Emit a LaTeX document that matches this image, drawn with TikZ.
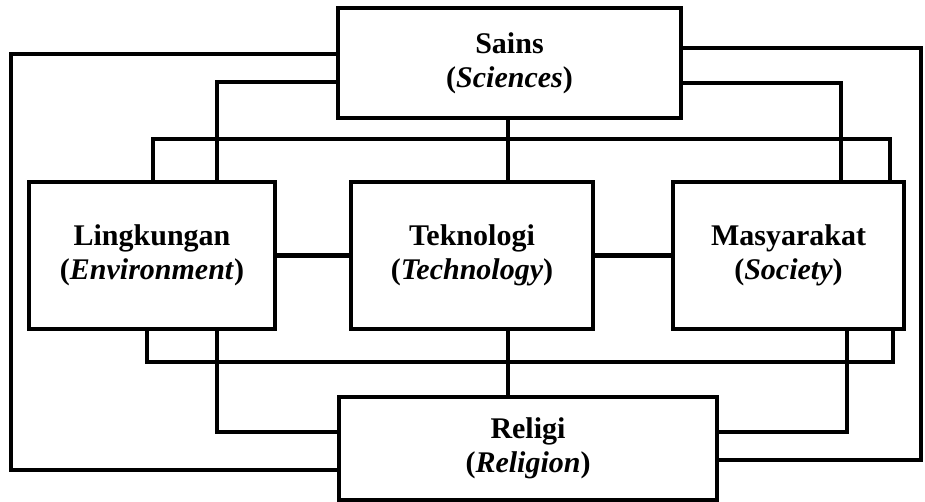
\documentclass[tikz,border=0pt]{standalone}
\usepackage{fontspec}
\setmainfont{Liberation Serif}
\tikzset{
  box/.style={draw, line width=2.4pt, align=center, inner sep=0pt,
    font=\fontsize{15}{17}\selectfont\bfseries},
  link/.style={line width=2.4pt},
}
\begin{document}
\begin{tikzpicture}[x=0.5pt, y=-0.5pt]
\useasboundingbox (0,0) rectangle (925,502);
\node[box, minimum width=171.5pt, minimum height=55pt] (sains) at (509.5,63) {\raisebox{-2.5pt}{Sains}\\\raisebox{-2.5pt}{(\textit{Sciences})}};
\node[box, minimum width=123pt, minimum height=73.5pt] (ling) at (152,255.5) {Lingkungan\\(\textit{Environment})};
\node[box, minimum width=121pt, minimum height=73.5pt] (tek) at (472,255.5) {Teknologi\\(\textit{Technology})};
\node[box, minimum width=115.5pt, minimum height=73.5pt] (mas) at (788.5,255.5) {Masyarakat\\(\textit{Society})};
\node[box, minimum width=189pt, minimum height=51.5pt] (religi) at (528,448.5) {Religi\\(\textit{Religion})};
% outer loops
\draw[link] (sains.west |- 0,54) -| (11,470) -- (religi.west |- 0,470);
\draw[link] (sains.east |- 0,48) -| (921,460) -- (religi.east |- 0,460);
% sains to the middle row
\draw[link] (sains.west |- 0,82) -| (ling.north -| 217,0);
\draw[link] (sains.east |- 0,83) -| (mas.north -| 841,0);
\draw[link] (sains.south -| 508,0) -- (tek.north -| 508,0);
% bars over and under the middle row
\draw[link] (ling.north -| 153,0) -- (153,139) -- (890,139) -- (mas.north -| 890,0);
\draw[link] (ling.south -| 147,0) -- (147,362) -- (893,362) -- (mas.south -| 893,0);
% middle row
\draw[link] (ling.east) -- (tek.west);
\draw[link] (tek.east) -- (mas.west);
% to religi
\draw[link] (ling.south -| 217,0) |- (religi.west |- 0,432);
\draw[link] (mas.south -| 847,0) |- (religi.east |- 0,432);
\draw[link] (tek.south -| 508,0) -- (religi.north -| 508,0);
\end{tikzpicture}
\end{document}
